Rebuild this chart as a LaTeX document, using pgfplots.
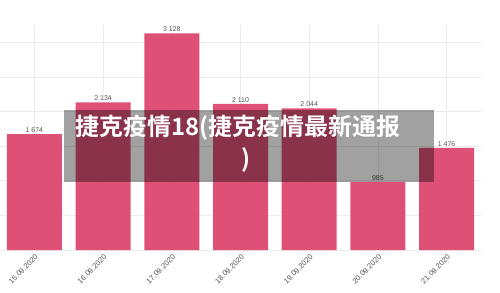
\documentclass[border=0pt]{standalone}
\usepackage{pgfplots}
\pgfplotsset{compat=1.18}
\usepackage{fontspec}
\setmainfont{Liberation Sans}
\newfontfamily\cjk{Noto Sans CJK SC Bold}
\definecolor{barpink}{RGB}{221,74,114}
\definecolor{gridgray}{RGB}{235,235,235}
\definecolor{labgray}{RGB}{80,80,80}
\begin{document}
\begin{tikzpicture}
\useasboundingbox (0,0) rectangle (500bp,293bp);
\begin{axis}[
  at={(0bp,43bp)}, anchor=south west,
  scale only axis, width=481bp, height=225bp,
  xmin=-0.5, xmax=6.5, ymin=0, ymax=3250,
  axis line style={draw=none},
  ybar, bar width=55bp,
  xtick={0,...,6},
  xticklabels={15.09.2020,16.09.2020,17.09.2020,18.09.2020,19.09.2020,20.09.2020,21.09.2020},
  x tick label style={rotate=45, anchor=north east, font=\fontsize{7.5}{9}\selectfont, text=labgray, inner sep=0.5bp, xshift=-2bp, yshift=-2.5bp},
  ytick={0,500,...,3000}, yticklabels={},
  major tick length=0pt,
  xmajorgrids, ymajorgrids,
  grid style={gridgray, line width=0.7pt},
  /pgf/number format/assume math mode=true,
  nodes near coords={\pgfmathprintnumber[1000 sep={\ }]{\pgfplotspointmeta}},
  every node near coord/.append style={font=\fontsize{7}{8}\selectfont, text=labgray, inner sep=1.5bp},
  clip=false,
]
\addplot[fill=barpink, draw=none, fill opacity=0.97] coordinates {
  (0,1674) (1,2134) (2,3128) (3,2110) (4,2044) (5,985) (6,1476)
};
\end{axis}
\fill[black, fill opacity=0.37] (64bp,111bp) rectangle (434bp,183bp);
\node[text=white, font=\cjk\fontsize{24}{28}\selectfont, inner sep=0pt] at (238bp,165.5bp) {捷克疫情18(捷克疫情最新通报};
\node[text=white, font=\cjk\fontsize{24}{28}\selectfont, inner sep=0pt] at (246bp,133bp) {)};
\end{tikzpicture}
\end{document}
